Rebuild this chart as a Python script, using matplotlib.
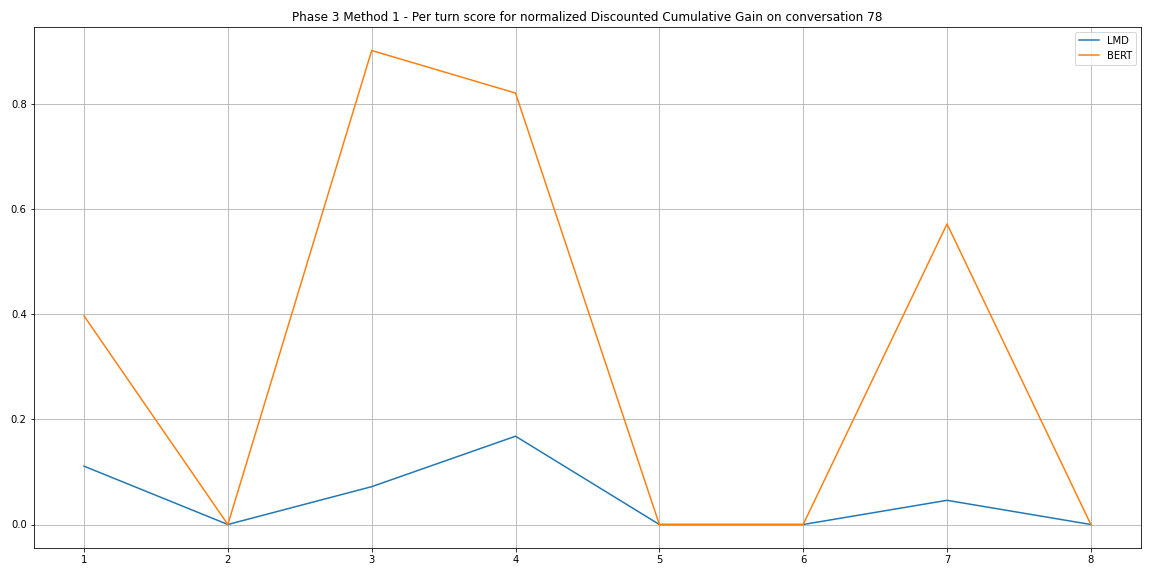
import matplotlib
matplotlib.use("Agg")
import matplotlib.pyplot as plt

turns = [1, 2, 3, 4, 5, 6, 7, 8]
lmd_scores = [0.111, 0.0, 0.072, 0.168, 0.0, 0.0, 0.046, 0.0]
bert_scores = [0.397, 0.0, 0.902, 0.821, 0.0, 0.0, 0.572, 0.0]

fig, ax = plt.subplots(figsize=(16, 8), dpi=72)
ax.plot(turns, lmd_scores, label='LMD')
ax.plot(turns, bert_scores, label='BERT')
ax.set_title('Phase 3 Method 1 - Per turn score for normalized Discounted Cumulative Gain on conversation 78')
ax.grid(True)
ax.legend()
fig.tight_layout()
fig.savefig('out.png', dpi=72)
